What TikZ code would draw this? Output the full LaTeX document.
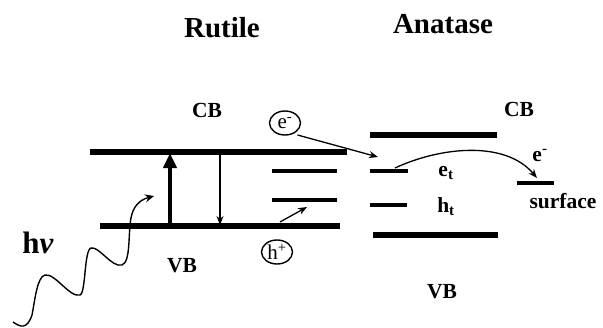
\documentclass[tikz,border=0pt]{standalone}
\usepackage{fontspec}
\setmainfont{Liberation Serif}
\usetikzlibrary{arrows.meta,shapes.geometric}
\begin{document}
\begin{tikzpicture}[x=1pt,y=-1pt,
  band/.style={line width=6pt},
  trap/.style={line width=3.5pt},
  conn/.style={line width=1.3pt,-{Stealth[length=9pt,width=7pt]}},
  title/.style={font=\bfseries\fontsize{29}{29}\selectfont,anchor=base,inner sep=0},
  lbl/.style={font=\bfseries\fontsize{21.5}{21.5}\selectfont,anchor=base,inner sep=0},
  carrier/.style={draw,ellipse,line width=1.4pt,minimum width=31pt,minimum height=24pt,inner sep=0,font=\fontsize{21}{21}\selectfont}]
\useasboundingbox (0,0) rectangle (603,327);
% titles
\node[title] (rt) at (222,37) {Rutile};
\node[title] (at) at (443,33) {Anatase};
% rutile levels
\draw[band] (90,152) coordinate (rcbL) -- (347,152) coordinate (rcbR);
\draw[band] (100,226) coordinate (rvbL) -- (340,226) coordinate (rvbR);
\draw[trap] (272,171) coordinate (rt1L) -- (337,171) coordinate (rt1R);
\draw[trap] (272,200) coordinate (rt2L) -- (337,200) coordinate (rt2R);
% anatase levels
\draw[band] (370,135) coordinate (acbL) -- (497,135) coordinate (acbR);
\draw[band] (373,235) coordinate (avbL) -- (498,235) coordinate (avbR);
\draw[trap] (370,171) coordinate (etL) -- (408,171) coordinate (etR);
\draw[trap] (370,205) coordinate (htL) -- (407,205) coordinate (htR);
\draw[trap] (517,183) coordinate (sfL) -- (554,183) coordinate (sfR);
% labels
\node[lbl] (cb1) at (207,117) {CB};
\node[lbl] (vb1) at (182,272) {VB};
\node[lbl] (cb2) at (519,116) {CB};
\node[lbl] (vb2) at (442,298) {VB};
\node[lbl] (et) at (446,176) {e\textsubscript{t}};
\node[lbl] (ht) at (446,212) {h\textsubscript{t}};
\node[lbl] (em2) at (540,161) {e\textsuperscript{-}};
\node[lbl] (sf) at (563,208) {surface};
\node[font=\bfseries\fontsize{31}{31}\selectfont,anchor=base,inner sep=0] (hv) at (38,253) {h\textit{ν}};
% carriers
\node[carrier] (e) at (285,123) {e\textsuperscript{-}};
\node[carrier] (h) at (277,252) {h\textsuperscript{+}};
% transitions
\coordinate (up0) at (170,226);
\coordinate (up1) at (170,153);
\draw[line width=4.5pt,-{Triangle[length=15pt,width=13pt]}] (up0) -- (up1);
\coordinate (dn0) at (220,152);
\coordinate (dn1) at (220,225);
\draw[conn] (dn0) -- (dn1);
\coordinate (hs) at (280,222);
\coordinate (he) at (307,207);
\draw[conn] (hs) -- (he);
\coordinate (ee) at (378,157);
\draw[conn] (e.south east) ++(1,3) coordinate (es) (es) -- (ee);
\coordinate (cs) at (395,168);
\coordinate (ce) at (537,178);
\draw[conn] (cs) .. controls (440,147) and (505,140) .. (ce);
% photon
\coordinate (ph0) at (13,322);
\coordinate (ph1) at (154,196);
\draw[line width=1.4pt,-{Stealth[length=9pt,width=8pt]}] (ph0)
  .. controls (20,327) and (27,330) .. (32,315)
  .. controls (35,300) and (37,277) .. (45,275)
  .. controls (55,273) and (70,298) .. (80,295)
  .. controls (86,293) and (84,250) .. (91,248)
  .. controls (99,246) and (112,268) .. (122,265)
  .. controls (131,262) and (128,232) .. (131,218)
  .. controls (133,207) and (139,200) .. (ph1);
\end{tikzpicture}
\end{document}
